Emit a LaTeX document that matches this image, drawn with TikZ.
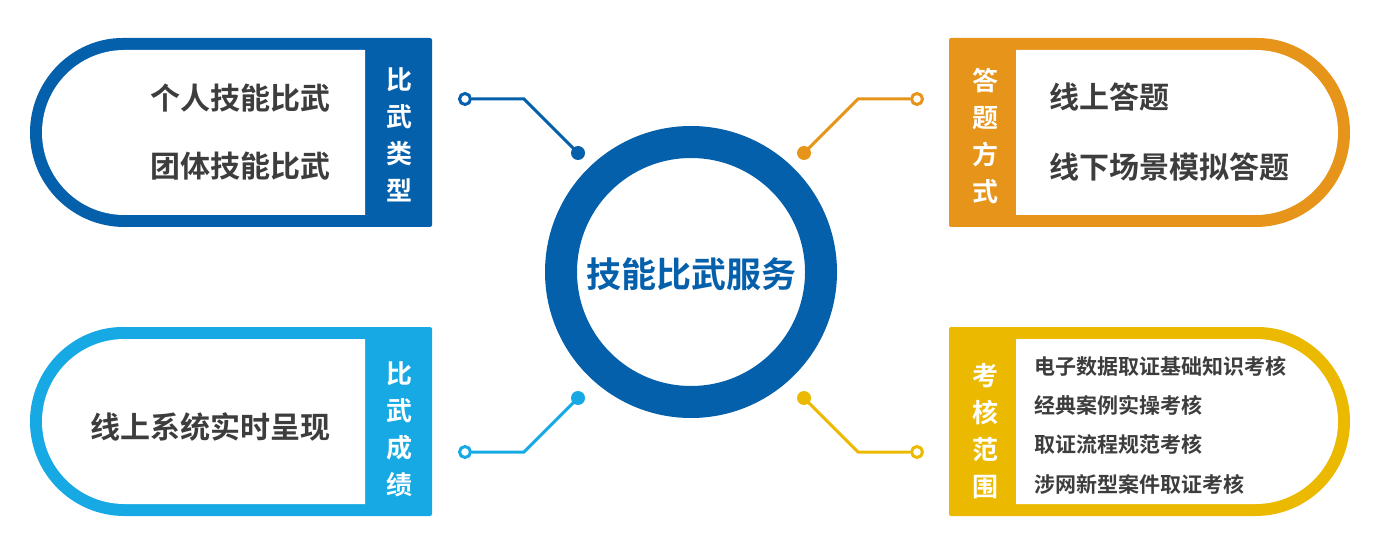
\documentclass[tikz,border=0pt]{standalone}
\usepackage{fontspec}
\newfontfamily\cjk{Noto Sans CJK SC Bold}
\definecolor{cblue}{HTML}{0560AC}
\definecolor{corange}{HTML}{E6941A}
\definecolor{clblue}{HTML}{17A9E4}
\definecolor{cyellow}{HTML}{EBBA00}
\definecolor{ctext}{HTML}{3D3D3D}
\tikzset{
  itemtext/.style={inner sep=0pt, text=ctext, font=\cjk\fontsize{30}{32}\selectfont},
  smalltext/.style={inner sep=0pt, text=ctext, font=\cjk\fontsize{21}{23}\selectfont},
  vlabel/.style={inner sep=0pt, text=white, align=center, font=\cjk\fontsize{26}{37}\selectfont},
  wire/.style={line width=3pt},
  opencirc/.style={circle, draw=#1, fill=white, line width=3pt, minimum size=11pt, inner sep=0pt},
  dotcirc/.style={circle, fill=#1, minimum size=14pt, inner sep=0pt},
}
\begin{document}
\begin{tikzpicture}[x=1pt,y=-1pt]
\useasboundingbox (0,0) rectangle (1383,537);
% ---------- top-left box ----------
\fill[cblue, rounded corners=2pt] (432,38) -- (124.5,38) [sharp corners] arc[start angle=270,end angle=90,radius=94.5] [rounded corners=2pt] -- (432,227) -- cycle;
\fill[white] (365,50) -- (124.5,50) arc[start angle=270,end angle=90,radius=82.5] -- (365,215) -- cycle;
% ---------- bottom-left box ----------
\fill[clblue, rounded corners=2pt] (432,327) -- (124.5,327) [sharp corners] arc[start angle=270,end angle=90,radius=94.5] [rounded corners=2pt] -- (432,516) -- cycle;
\fill[white] (365,339) -- (124.5,339) arc[start angle=270,end angle=90,radius=82.5] -- (365,504) -- cycle;
% ---------- top-right box ----------
\fill[corange, rounded corners=2pt] (949,38) -- (1255.5,38) [sharp corners] arc[start angle=270,end angle=450,radius=94.5] [rounded corners=2pt] -- (949,227) -- cycle;
\fill[white] (1016,50) -- (1255.5,50) arc[start angle=270,end angle=450,radius=82.5] -- (1016,215) -- cycle;
% ---------- bottom-right box ----------
\fill[cyellow, rounded corners=2pt] (949,327) -- (1255.5,327) [sharp corners] arc[start angle=270,end angle=450,radius=94.5] [rounded corners=2pt] -- (949,516) -- cycle;
\fill[white] (1016,339) -- (1255.5,339) arc[start angle=270,end angle=450,radius=82.5] -- (1016,504) -- cycle;
% ---------- centre ring ----------
\node[circle, draw=cblue, line width=32pt, minimum size=260pt, inner sep=0pt] (hub) at (691,272) {};
\node[inner sep=0pt, text=cblue, font=\cjk\fontsize{35}{37}\selectfont] (hubtext) at (691,274) {技能比武服务};
% ---------- labels ----------
\node[vlabel] (lab1) at (399,135) {比\\武\\类\\型};
\node[vlabel] (lab2) at (399,429) {比\\武\\成\\绩};
\node[vlabel] (lab3) at (985,136) {答\\题\\方\\式};
\node[vlabel] (lab4) at (985,431) {考\\核\\范\\围};
% ---------- item texts ----------
\node[itemtext, anchor=east] (t1a) at (331,98) {个人技能比武};
\node[itemtext, anchor=east] (t1b) at (331,166) {团体技能比武};
\node[itemtext, anchor=east] (t2a) at (331,427) {线上系统实时呈现};
\node[itemtext, anchor=west] (t3a) at (1049,97) {线上答题};
\node[itemtext, anchor=west] (t3b) at (1049,167) {线下场景模拟答题};
\node[smalltext, anchor=west] (t4a) at (1034,366) {电子数据取证基础知识考核};
\node[smalltext, anchor=west] (t4b) at (1034,405) {经典案例实操考核};
\node[smalltext, anchor=west] (t4c) at (1034,444) {取证流程规范考核};
\node[smalltext, anchor=west] (t4d) at (1034,484) {涉网新型案件取证考核};
% ---------- connectors ----------
\coordinate (b1) at (524,99);
\coordinate (b2) at (858,99);
\coordinate (b3) at (524,452);
\coordinate (b4) at (858,452);
\node[dotcirc=cblue] (d1) at (578,153) {};
\node[dotcirc=corange] (d2) at (804,153) {};
\node[dotcirc=clblue] (d3) at (578,398) {};
\node[dotcirc=cyellow] (d4) at (804,398) {};
\node[opencirc=cblue] (o1) at (465,99) {};
\node[opencirc=corange] (o2) at (917,99) {};
\node[opencirc=clblue] (o3) at (465,452) {};
\node[opencirc=cyellow] (o4) at (917,452) {};
\draw[wire, cblue] (d1.center) -- (b1) -- (o1.east);
\draw[wire, corange] (d2.center) -- (b2) -- (o2.west);
\draw[wire, clblue] (d3.center) -- (b3) -- (o3.east);
\draw[wire, cyellow] (d4.center) -- (b4) -- (o4.west);
\end{tikzpicture}
\end{document}
